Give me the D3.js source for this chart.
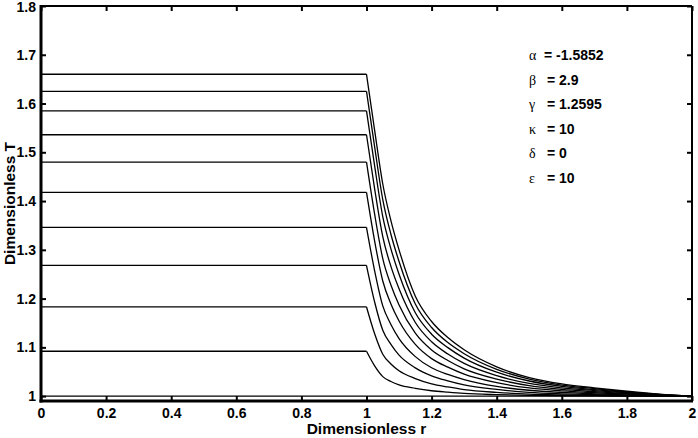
<!DOCTYPE html>
<html>
<head>
<meta charset="utf-8">
<script src="https://cdn.jsdelivr.net/npm/d3@7"></script>
<style>
    body { margin: 0; background: #fff; }
    svg { display: block; }
</style>
</head>
<body>
<svg id="chart" width="698" height="438"></svg>
<script>
(function () {
    'use strict';

    // radial positions shared by every profile
    var rValues = [0, 1, 1.025, 1.05, 1.075, 1.1, 1.15, 1.2, 1.25, 1.3, 1.4, 1.5, 1.6, 1.7, 1.8, 1.9, 2];

    // temperature profiles, bottom to top
    var T0 = [1, 1, 1, 1, 1, 1, 1, 1, 1, 1, 1, 1, 1, 1, 1, 1, 1];
    var T1 = [1.092, 1.092, 1.062, 1.040, 1.030, 1.023, 1.016, 1.011, 1.008, 1.0055, 1.003, 1.0015, 1.0008, 1.0004, 1.0002, 1.0001, 1];
    var T2 = [1.183, 1.183, 1.128, 1.086, 1.066, 1.052, 1.036, 1.0252, 1.0188, 1.0134, 1.0077, 1.0042, 1.0025, 1.0014, 1.0008, 1.0003, 1];
    var T3 = [1.268, 1.268, 1.193, 1.135, 1.106, 1.084, 1.058, 1.0417, 1.0313, 1.023, 1.0137, 1.0078, 1.0048, 1.0029, 1.0016, 1.0007, 1];
    var T4 = [1.346, 1.346, 1.257, 1.185, 1.147, 1.118, 1.081, 1.0582, 1.0445, 1.034, 1.020, 1.012, 1.0076, 1.0048, 1.0027, 1.0011, 1];
    var T5 = [1.418, 1.418, 1.318, 1.236, 1.189, 1.154, 1.106, 1.0769, 1.0593, 1.045, 1.0276, 1.0167, 1.0107, 1.0069, 1.004, 1.0016, 1];
    var T6 = [1.480, 1.480, 1.373, 1.282, 1.228, 1.187, 1.129, 1.0946, 1.0731, 1.056, 1.035, 1.0215, 1.0138, 1.0091, 1.0052, 1.0021, 1];
    var T7 = [1.536, 1.536, 1.425, 1.327, 1.266, 1.220, 1.151, 1.1114, 1.0863, 1.067, 1.042, 1.026, 1.017, 1.0114, 1.0065, 1.0026, 1];
    var T8 = [1.585, 1.585, 1.472, 1.368, 1.302, 1.250, 1.171, 1.127, 1.0995, 1.078, 1.049, 1.031, 1.020, 1.0135, 1.0078, 1.0031, 1];
    var T9 = [1.625, 1.625, 1.511, 1.403, 1.332, 1.276, 1.189, 1.1407, 1.1098, 1.087, 1.055, 1.035, 1.0226, 1.0154, 1.0089, 1.0036, 1];
    var T10 = [1.660, 1.660, 1.545, 1.435, 1.360, 1.300, 1.205, 1.153, 1.120, 1.095, 1.060, 1.038, 1.025, 1.017, 1.010, 1.004, 1];

    var xTicks = [0, 0.2, 0.4, 0.6, 0.8, 1, 1.2, 1.4, 1.6, 1.8, 2];
    var yTicks = [1, 1.1, 1.2, 1.3, 1.4, 1.5, 1.6, 1.7, 1.8];

    var paramSymbols = ['\u03b1', '\u03b2', '\u03b3', '\u03ba', '\u03b4', '\u03b5'];
    var paramValues = ['= -1.5852', '= 2.9', '= 1.2595', '= 10', '= 0', '= 10'];

    var profiles = [T0, T1, T2, T3, T4, T5, T6, T7, T8, T9, T10];

    var FONT = '"Liberation Sans", Arial, sans-serif';

    var init = function (selector) {
        var svg = d3.select(selector);
        var left = 41, right = 692, top = 6, bottom = 401;

        var x = d3.scaleLinear().domain([0, 2]).range([left, right]);
        var y = d3.scaleLinear().domain([0.99, 1.8]).range([bottom, top]);

        var line = d3.line()
            .x(function (d) { return x(d[0]); })
            .y(function (d) { return y(d[1]); });
        var smoothLine = d3.line()
            .x(function (d) { return x(d[0]); })
            .y(function (d) { return y(d[1]); })
            .curve(d3.curveMonotoneX);

        var toPoints = function (ts) {
            return ts.map(function (t, i) { return [rValues[i], t]; });
        };

        var curves = svg.append('g')
            .attr('fill', 'none')
            .attr('stroke', '#000')
            .attr('stroke-width', 1.3);

        // flat core (r <= 1) drawn straight, the outer decay smoothed
        curves.selectAll('.core')
            .data(profiles)
            .enter()
            .append('path')
            .attr('class', 'core')
            .attr('d', function (ts) { return line(toPoints(ts).slice(0, 2)); });
        curves.selectAll('.outer')
            .data(profiles)
            .enter()
            .append('path')
            .attr('class', 'outer')
            .attr('d', function (ts) { return smoothLine(toPoints(ts).slice(1)); });

        // inward ticks on all four sides
        var tickLen = 5;
        var bottomAxis = d3.axisBottom(x).tickValues(xTicks).tickSizeInner(-tickLen).tickSizeOuter(0)
            .tickFormat(d3.format('~g')).tickPadding(7);
        var topAxis = d3.axisTop(x).tickValues(xTicks).tickSizeInner(-tickLen).tickSizeOuter(0).tickFormat('');
        var leftAxis = d3.axisLeft(y).tickValues(yTicks).tickSizeInner(-tickLen).tickSizeOuter(0)
            .tickFormat(d3.format('~g')).tickPadding(5);
        var rightAxis = d3.axisRight(y).tickValues(yTicks).tickSizeInner(-tickLen).tickSizeOuter(0).tickFormat('');

        var gb = svg.append('g').attr('transform', 'translate(0,' + bottom + ')').call(bottomAxis);
        var gt = svg.append('g').attr('transform', 'translate(0,' + top + ')').call(topAxis);
        var gl = svg.append('g').attr('transform', 'translate(' + left + ',0)').call(leftAxis);
        var gr = svg.append('g').attr('transform', 'translate(' + right + ',0)').call(rightAxis);

        [gb, gt, gl, gr].forEach(function (g) {
            g.select('.domain').remove();
            g.selectAll('.tick line').attr('stroke', '#000').attr('stroke-width', 2);
            g.selectAll('.tick text')
                .attr('fill', '#000')
                .style('font-family', FONT)
                .style('font-weight', 'bold')
                .style('font-size', '14px');
        });
        gl.selectAll('.tick text').filter(function (d) { return d === 1.8; }).attr('dy', '0.4em');

        // frame
        svg.append('line').attr('x1', left).attr('x2', right).attr('y1', top).attr('y2', top)
            .attr('stroke', '#000').attr('stroke-width', 2.2);
        svg.append('line').attr('x1', right).attr('x2', right).attr('y1', top).attr('y2', bottom)
            .attr('stroke', '#000').attr('stroke-width', 2);
        svg.append('line').attr('x1', left).attr('x2', left).attr('y1', top - 1).attr('y2', bottom + 1.5)
            .attr('stroke', '#000').attr('stroke-width', 3);
        svg.append('line').attr('x1', left - 1.5).attr('x2', right + 1).attr('y1', bottom).attr('y2', bottom)
            .attr('stroke', '#000').attr('stroke-width', 3);

        // axis titles
        svg.append('text')
            .attr('x', (left + right) / 2)
            .attr('y', 434)
            .attr('text-anchor', 'middle')
            .style('font-family', FONT)
            .style('font-weight', 'bold')
            .style('font-size', '15.5px')
            .text('Dimensionless r');
        svg.append('text')
            .attr('transform', 'translate(15,' + ((top + bottom) / 2) + ') rotate(-90)')
            .attr('text-anchor', 'middle')
            .style('font-family', FONT)
            .style('font-weight', 'bold')
            .style('font-size', '15.5px')
            .text('Dimensionless T');

        // parameter block
        var params = svg.append('g');
        paramSymbols.forEach(function (s, i) {
            var yy = 60 + i * 24.5;
            params.append('text')
                .attr('x', 529)
                .attr('y', yy)
                .style('font-family', '"Liberation Serif", "Times New Roman", serif')
                .style('font-size', '14px')
                .text(s);
            params.append('text')
                .attr('x', i === 0 ? 544 : 547)
                .attr('y', yy)
                .style('font-family', FONT)
                .style('font-weight', 'bold')
                .style('font-size', '14px')
                .text(paramValues[i]);
        });
    };

    document.addEventListener('DOMContentLoaded', function () { return init('#chart'); }, false);
}());
</script>
</body>
</html>
